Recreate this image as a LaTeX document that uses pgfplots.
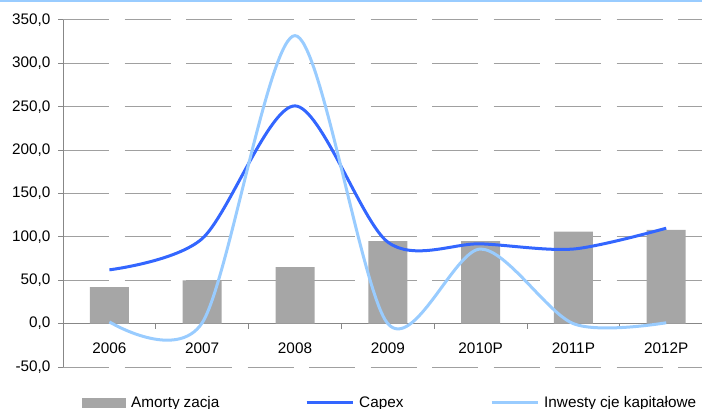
\documentclass[border=0pt]{standalone}
\usepackage{pgfplots}
\pgfplotsset{compat=1.18}
\usepackage{fontspec}
\setmainfont{Liberation Sans}

\definecolor{amort}{HTML}{A6A6A6}
\definecolor{capex}{HTML}{3366FF}
\definecolor{inwest}{HTML}{99CCFF}
\definecolor{gridgray}{HTML}{A0A0A0}
\definecolor{axisgray}{HTML}{878787}

\newcommand{\chartfont}{\fontsize{15.3bp}{18bp}\selectfont}

\begin{document}
\begin{tikzpicture}[x=1bp,y=1bp]
\path[use as bounding box] (0,0) rectangle (702,408);
\clip (0,0) rectangle (702,408);
% thin rule along the top edge
\fill[inwest] (0,406) rectangle (702,408);
\begin{axis}[
  at={(63bp,41bp)}, anchor=south west,
  scale only axis,
  width=649.6bp, height=347bp,
  xmin=-0.5, xmax=6.5,
  ymin=-50, ymax=350,
  axis y line=left,
  axis x line=middle,
  axis line style={axisgray, line width=1bp, -},
  ytick={-50,0,50,100,150,200,250,300,350},
  ymajorgrids,
  grid style={gridgray, line width=1bp, dash pattern=on 46bp off 15.5bp},
  tick style={axisgray, line width=1bp},
  major tick length=5bp,
  tick align=outside,
  xtick={0.5,1.5,2.5,3.5,4.5,5.5},
  xticklabels={},
  extra x ticks={0,1,2,3,4,5,6},
  extra x tick labels={2006,2007,2008,2009,2010P,2011P,2012P},
  extra x tick style={major tick length=0pt, grid=none,
    xticklabel style={yshift=-16bp}},
  ticklabel style={font=\chartfont},
  yticklabel style={xshift=-4bp, /pgf/number format/.cd, fixed, fixed zerofill,
    precision=1, use comma, assume math mode=true},
  legend columns=3,
  legend style={draw=none, fill=none, inner sep=0pt,
    nodes={inner sep=0pt, font=\chartfont},
    at={(0.02925,-0.1037)}, anchor=west,
    /tikz/every odd column/.append style={column sep=5bp}},
  clip=false,
]
% depreciation (bars)
\addplot[ybar, bar width=39bp, bar shift=0pt, fill=amort, draw=none,
  legend image code/.code={\fill[amort] (0bp,-5.3bp) rectangle (44bp,5.3bp);}]
  coordinates {(0,42) (1,50) (2,65) (3,95) (4,95) (5,106) (6,108)};
\addlegendentry{\makebox[174bp][l]{Amorty\kern4bp zacja}}
% capex
\addplot[capex, line width=3bp, smooth, tension=0.5, no markers,
  legend image code/.code={\draw[capex, line width=3bp] (0bp,0bp) -- (46bp,0bp);}]
  coordinates {(0,62) (1,98) (2,251) (3,94) (4,92) (5,86) (6,110)};
\addlegendentry{\makebox[131bp][l]{Capex}}
% capital expenditure
\addplot[inwest, line width=3bp, smooth, tension=0.5, no markers,
  legend image code/.code={\draw[inwest, line width=3bp] (0bp,0bp) -- (46bp,0bp);}]
  coordinates {(0,2) (1,1) (2,332) (3,0) (4,86) (5,0) (6,1)};
\addlegendentry{Inwesty\kern4bp cje kapitałowe}
\end{axis}
\end{tikzpicture}
\end{document}
